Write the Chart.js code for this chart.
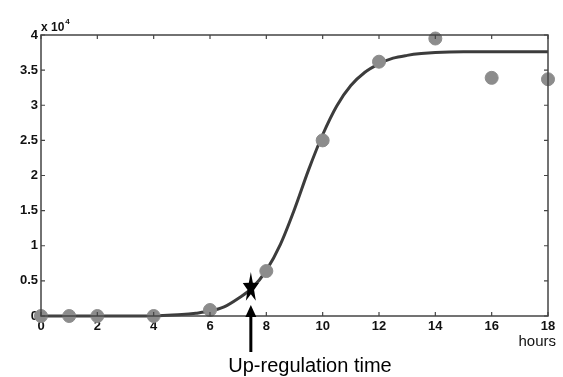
<!DOCTYPE html>
<html>
<head>
<meta charset="utf-8">
<script src="https://cdn.jsdelivr.net/npm/chart.js@4"></script>
<style>
  html,body{margin:0;padding:0;background:#fff;}
  #wrap{width:563px;height:377px;position:relative;}
</style>
</head>
<body>
<div id="wrap"><canvas id="c" width="563" height="377"></canvas></div>
<script>
// Measured data (hours, value)
const measTimes  = [0, 1, 2, 4, 6, 8, 10, 12, 14, 16, 18];
const measValues = [0, 0, 0, 0, 850, 6400, 25000, 36200, 39500, 33900, 33700];

// Fitted curve
const fitTimes  = [0, 0.5, 1, 1.5, 2, 2.5, 3, 3.5, 4, 4.5, 5, 5.5, 6, 6.5, 7, 7.5, 8, 8.5, 9, 9.5, 10, 10.5, 11, 11.5, 12, 12.5, 13, 13.5, 14, 15, 16, 17, 18];
const fitValues = [0, 0, 0, 0, 0, 0, 0, 0, 0, 100, 200, 400, 700, 1300, 2500, 4000, 6500, 10200, 15200, 20800, 25800, 29900, 32800, 34700, 35900, 36700, 37100, 37350, 37500, 37600, 37600, 37600, 37600];

// Up-regulation marker
const upregTime = 7.45;
const upregValue = 4000;
const upregLabel = 'Up-regulation time';

const xTicks = [0, 2, 4, 6, 8, 10, 12, 14, 16, 18];
const yTicks = [0, 5000, 10000, 15000, 20000, 25000, 30000, 35000, 40000];

const FONT = '"Liberation Sans", Arial, Helvetica, sans-serif';

const overlay = {
  id: 'overlay',
  afterDatasetsDraw(chart) {
    const ctx = chart.ctx;
    const a = chart.chartArea;
    const xs = chart.scales.x, ys = chart.scales.y;
    ctx.save();
    // frame
    ctx.strokeStyle = '#444';
    ctx.lineWidth = 1.5;
    ctx.strokeRect(a.left, a.top, a.right - a.left, a.bottom - a.top);
    // inward ticks
    ctx.lineWidth = 1.2;
    const tl = 4;
    xTicks.forEach(v => {
      const px = xs.getPixelForValue(v);
      ctx.beginPath();
      ctx.moveTo(px, a.bottom); ctx.lineTo(px, a.bottom - tl);
      ctx.moveTo(px, a.top); ctx.lineTo(px, a.top + tl);
      ctx.stroke();
    });
    yTicks.forEach(v => {
      const py = ys.getPixelForValue(v);
      ctx.beginPath();
      ctx.moveTo(a.left, py); ctx.lineTo(a.left + tl, py);
      ctx.moveTo(a.right, py); ctx.lineTo(a.right - tl, py);
      ctx.stroke();
    });
    // exponent label
    ctx.fillStyle = '#111';
    ctx.textBaseline = 'alphabetic';
    ctx.textAlign = 'left';
    ctx.font = 'bold 12px ' + FONT;
    ctx.fillText('x 10', a.left, a.top - 4);
    const w = ctx.measureText('x 10').width;
    ctx.font = 'bold 8px ' + FONT;
    ctx.fillText('4', a.left + w + 1, a.top - 11);
    // hours label
    ctx.font = '15px ' + FONT;
    ctx.textAlign = 'right';
    ctx.textBaseline = 'middle';
    ctx.fillText('hours', a.right + 8, a.bottom + 26);

    // star
    const sx = xs.getPixelForValue(upregTime);
    const sy = ys.getPixelForValue(upregValue);
    ctx.fillStyle = '#000';
    ctx.beginPath();
    const rxo = 8.5, ryo = 16, rxi = 3.4, ryi = 6.4;
    for (let i = 0; i < 10; i++) {
      const ang = -Math.PI / 2 + i * Math.PI / 5;
      const outer = i % 2 === 0;
      const px = sx + Math.cos(ang) * (outer ? rxo : rxi);
      const py = sy + Math.sin(ang) * (outer ? ryo : ryi);
      if (i === 0) ctx.moveTo(px, py); else ctx.lineTo(px, py);
    }
    ctx.closePath();
    ctx.fill();

    // arrow
    const tipY = sy + 17;
    ctx.strokeStyle = '#000';
    ctx.lineWidth = 3;
    ctx.beginPath();
    ctx.moveTo(sx, 352);
    ctx.lineTo(sx, tipY + 8);
    ctx.stroke();
    ctx.beginPath();
    ctx.moveTo(sx, tipY);
    ctx.lineTo(sx - 5.5, tipY + 12);
    ctx.lineTo(sx + 5.5, tipY + 12);
    ctx.closePath();
    ctx.fill();

    // label
    ctx.font = '20px ' + FONT;
    ctx.textAlign = 'center';
    ctx.textBaseline = 'middle';
    ctx.fillStyle = '#000';
    ctx.fillText(upregLabel, 310, 366);
    ctx.restore();
  }
};

new Chart(document.getElementById('c'), {
  type: 'scatter',
  data: {
    datasets: [
      {
        label: 'measured',
        data: measTimes.map((t, i) => ({x: t, y: measValues[i]})),
        backgroundColor: '#8c8c8c',
        borderColor: '#8c8c8c',
        pointRadius: 6.5,
        pointHoverRadius: 6.5,
        showLine: false,
        order: 1
      },
      {
        label: 'fit',
        data: fitTimes.map((t, i) => ({x: t, y: fitValues[i]})),
        borderColor: '#3c3c3c',
        backgroundColor: '#3c3c3c',
        borderWidth: 3,
        pointRadius: 0,
        showLine: true,
        cubicInterpolationMode: 'monotone',
        order: 2
      }
    ]
  },
  options: {
    responsive: false,
    animation: false,
    clip: false,
    layout: { padding: { top: 35, right: 15, left: 0, bottom: 0 } },
    plugins: { legend: { display: false }, tooltip: { enabled: false } },
    scales: {
      x: {
        type: 'linear',
        min: 0, max: 18,
        afterFit: s => { s.height = 61; },
        grid: { display: false, drawTicks: false },
        border: { display: false },
        afterBuildTicks: s => { s.ticks = xTicks.map(v => ({value: v})); },
        ticks: {
          padding: 3,
          color: '#111',
          font: { family: FONT, size: 13, weight: 'bold' },
          maxRotation: 0,
          autoSkip: false,
          callback: v => String(v)
        }
      },
      y: {
        type: 'linear',
        min: 0, max: 40000,
        afterFit: s => { s.width = 41; },
        grid: { display: false, drawTicks: false },
        border: { display: false },
        afterBuildTicks: s => { s.ticks = yTicks.map(v => ({value: v})); },
        ticks: {
          padding: 3,
          color: '#111',
          font: { family: FONT, size: 13, weight: 'bold' },
          autoSkip: false,
          callback: v => String(v / 10000)
        }
      }
    }
  },
  plugins: [overlay]
});
</script>
</body>
</html>
